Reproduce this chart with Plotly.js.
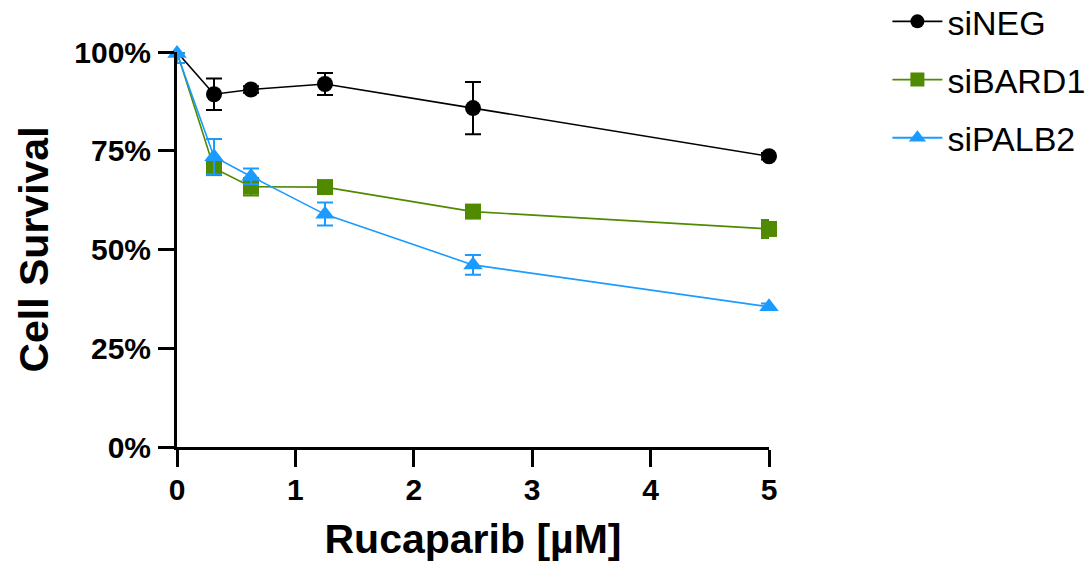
<!DOCTYPE html>
<html>
<head>
<meta charset="utf-8">
<script src="https://cdn.plot.ly/plotly-3.0.1.min.js"></script>
<style>html,body{margin:0;padding:0;background:#fff;}#chart{width:1088px;height:570px;}</style>
</head>
<body>
<div id="chart"></div>
<script>
const doses = [0, 0.3125, 0.625, 1.25, 2.5, 5];
const seriesNames = ["siNEG", "siBARD1", "siPALB2"];
const siNEG = [100, 89.3, 90.5, 91.9, 85.8, 73.6];
const siNEG_err = [0, 4.0, 0.8, 2.8, 6.6, 0.8];
const siBARD1 = [100, 70.6, 65.9, 65.8, 59.6, 55.2];
const siBARD1_err = [0, 1.2, 2.2, 1.0, 1.0, 2.3];
const siPALB2 = [99.6, 73.5, 68.5, 58.9, 46.1, 35.5];
const siPALB2_errPlus = [0, 4.5, 2.0, 3.0, 2.5, 0.8];
const siPALB2_errMinus = [2.4, 4.5, 2.0, 2.8, 2.5, 0.8];
const yTickVals = [0, 25, 50, 75, 100];
const yTickText = ["0%", "25%", "50%", "75%", "100%"];
const xTickVals = [0, 1, 2, 3, 4, 5];

const font = "Liberation Sans, Arial, Helvetica, sans-serif";
const colors = ["#000000", "#4f8a00", "#1a9bff"];
const symbols = ["circle", "square", "triangle-up"];
const ys = [siNEG, siBARD1, siPALB2];
const errs = [
  {type: "data", array: siNEG_err, symmetric: true},
  {type: "data", array: siBARD1_err, symmetric: true},
  {type: "data", array: siPALB2_errPlus, arrayminus: siPALB2_errMinus, symmetric: false}
];
// markers at dose 0 are only visible for the last (top) series in the reference
const markerSizes = [
  doses.map(d => d === 0 ? 0 : 16),
  doses.map(d => d === 0 ? 0 : 16),
  doses.map(() => 17)
];

const traces = seriesNames.map((n, i) => ({
  x: doses, y: ys[i], name: n, type: "scatter", mode: "lines+markers",
  showlegend: false, cliponaxis: false,
  line: {color: colors[i], width: 1.6},
  marker: {symbol: symbols[i], size: markerSizes[i], color: colors[i], opacity: 1, line: {width: 0}},
  error_y: Object.assign({}, errs[i], {color: colors[i], thickness: 2, width: 8})
}));
// legend entries (same names/styles, no data of their own)
seriesNames.forEach((n, i) => traces.push({
  x: [null], y: [null], name: n, type: "scatter", mode: "lines+markers",
  legendgroup: n, showlegend: true,
  line: {color: colors[i], width: 1.8},
  marker: {symbol: symbols[i], size: i === 2 ? 15 : 14, color: colors[i]}
}));

const layout = {
  width: 1088, height: 570,
  margin: {l: 177, r: 319, t: 52, b: 123, pad: 0, autoexpand: false},
  paper_bgcolor: "#fff", plot_bgcolor: "#fff",
  showlegend: true,
  legend: {x: 1.2, xanchor: "left", y: 1.15, yanchor: "top",
    font: {family: font, size: 34, color: "#000"}, traceorder: "grouped", tracegroupgap: 11,
    itemwidth: 50},
  xaxis: {
    range: [0, 5], tickvals: xTickVals, ticks: "outside", ticklen: 17, tickwidth: 3,
    tickcolor: "#000", showline: true, linewidth: 3, linecolor: "#000", showgrid: false,
    zeroline: false, ticklabelstandoff: -3,
    tickfont: {family: font, size: 30, color: "#000", weight: "bold"},
    title: {text: "Rucaparib [µM]", standoff: 20, font: {family: font, size: 41, color: "#000", weight: "bold"}}
  },
  yaxis: {
    range: [0, 100], tickvals: yTickVals, ticktext: yTickText, ticks: "outside", ticklen: 16, tickwidth: 3,
    tickcolor: "#000", showline: true, linewidth: 3, linecolor: "#000", showgrid: false,
    zeroline: false, ticklabelstandoff: 1,
    tickfont: {family: font, size: 30, color: "#000", weight: "bold"},
    title: {text: "Cell Survival", standoff: 13, font: {family: font, size: 41, color: "#000", weight: "bold"}}
  }
};

Plotly.newPlot("chart", traces, layout, {displayModeBar: false, staticPlot: true});
</script>
</body>
</html>
